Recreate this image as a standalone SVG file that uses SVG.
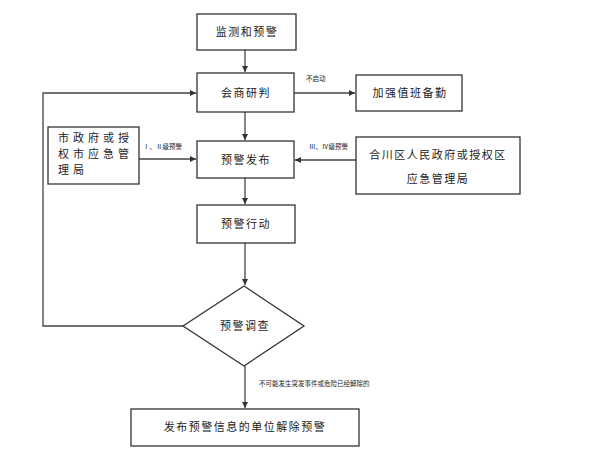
<svg xmlns="http://www.w3.org/2000/svg" width="590" height="452" viewBox="0 0 590 452">
<style>
.box{fill:#fff;stroke:#333;stroke-width:1.3}
.t{font-family:"Noto Sans CJK SC","Liberation Sans",sans-serif;font-size:11px;fill:#222;letter-spacing:1.5px}
.w{letter-spacing:4px}
.s{font-family:"Noto Sans CJK SC","Liberation Serif",serif;font-size:6.5px;fill:#222}
.c{fill:none;stroke:#444;stroke-width:1.3}
</style>
<defs>
<marker id="a" viewBox="0 0 10 10" refX="10" refY="5" markerWidth="6" markerHeight="6" orient="auto" markerUnits="userSpaceOnUse">
<path d="M0,0 L10,5 L0,10 z" fill="#333"/>
</marker>
</defs>
<rect width="590" height="452" fill="#fff"/>
<g id="connectors">
<line class="c" x1="245" y1="50" x2="245" y2="72" marker-end="url(#a)"/>
<line class="c" x1="245" y1="112" x2="245" y2="140" marker-end="url(#a)"/>
<line class="c" x1="245" y1="178" x2="245" y2="204" marker-end="url(#a)"/>
<line class="c" x1="245" y1="243" x2="245" y2="285" marker-end="url(#a)"/>
<line class="c" x1="245" y1="366" x2="245" y2="408" marker-end="url(#a)"/>
<line class="c" x1="294" y1="93" x2="355" y2="93" marker-end="url(#a)"/>
<line class="c" x1="139" y1="159" x2="196" y2="159" marker-end="url(#a)"/>
<line class="c" x1="356" y1="160" x2="295" y2="160" marker-end="url(#a)"/>
<polyline class="c" points="183,326 43,326 43,93 196,93" marker-end="url(#a)"/>
<text class="s" x="306" y="81">不启动</text>
<text class="s" x="143" y="149">Ⅰ、Ⅱ级预警</text>
<text class="s" x="309" y="149">Ⅲ、Ⅳ级预警</text>
<text class="s" x="259" y="386">不可能发生突发事件或危险已经解除的</text>
</g>
<g id="n1"><rect class="box" x="197" y="14" width="99" height="36"/><text class="t" x="247" y="36" text-anchor="middle">监测和预警</text></g>
<g id="n2"><rect class="box" x="197" y="73" width="97" height="39"/><text class="t" x="246" y="97" text-anchor="middle">会商研判</text></g>
<g id="n3"><rect class="box" x="356" y="75" width="106" height="36"/><text class="t" x="410" y="97" text-anchor="middle">加强值班备勤</text></g>
<g id="n4"><rect class="box" x="48" y="127" width="91" height="57"/>
<text class="t w" x="58" y="142">市政府或授</text>
<text class="t w" x="58" y="158">权市应急管</text>
<text class="t w" x="58" y="174">理局</text></g>
<g id="n5"><rect class="box" x="197" y="141" width="97" height="37"/><text class="t" x="246" y="164" text-anchor="middle">预警发布</text></g>
<g id="n6"><rect class="box" x="356" y="137" width="164" height="57"/>
<text class="t" x="438" y="159" text-anchor="middle">合川区人民政府或授权区</text>
<text class="t" x="438" y="183" text-anchor="middle">应急管理局</text></g>
<g id="n7"><rect class="box" x="197" y="205" width="98" height="38"/><text class="t" x="246" y="228" text-anchor="middle">预警行动</text></g>
<g id="n8"><polygon class="box" points="244,286 304,326 244,366 183,326"/><text class="t" x="245" y="330" text-anchor="middle">预警调查</text></g>
<g id="n9"><rect class="box" x="131" y="409" width="228" height="37"/><text class="t" x="245" y="431" text-anchor="middle">发布预警信息的单位解除预警</text></g>
</svg>
